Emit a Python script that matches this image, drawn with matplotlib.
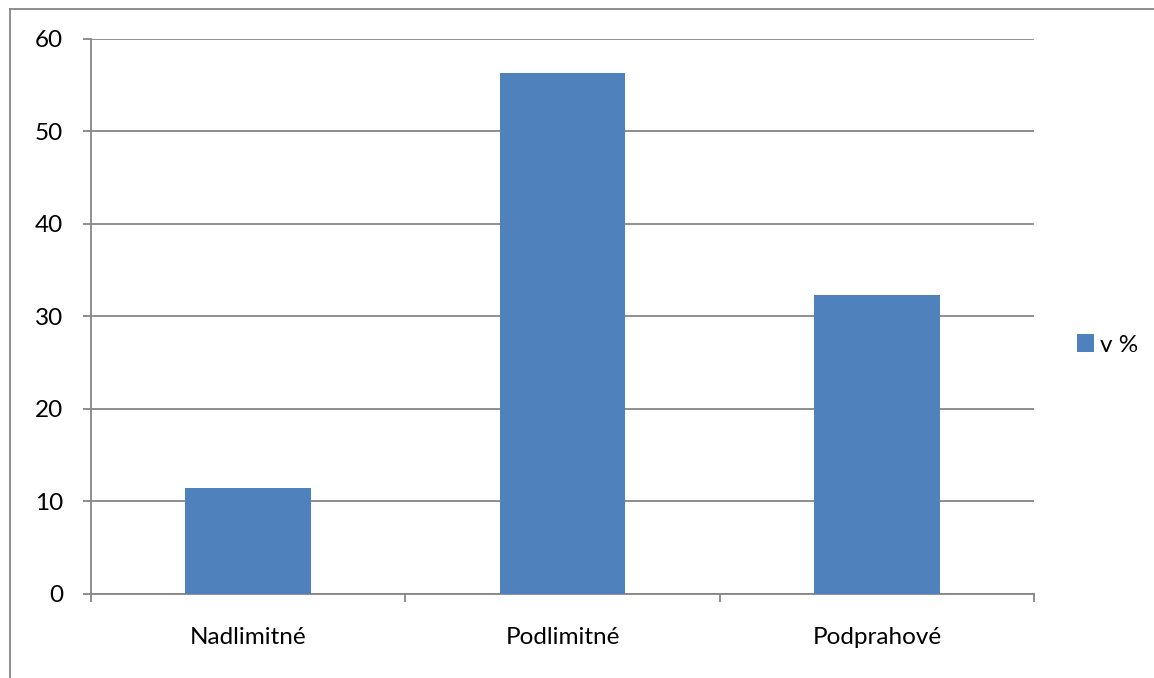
import matplotlib
matplotlib.use("Agg")
import matplotlib.pyplot as plt
from matplotlib.lines import Line2D
from matplotlib.patches import Patch

categories = ["Nadlimitné", "Podlimitné", "Podprahové"]
values = [11.4, 56.3, 32.3]
series_name = "v %"
yticks = [0, 10, 20, 30, 40, 50, 60]

W, H = 1154, 678
plt.rcParams['font.family'] = ['Lato', 'DejaVu Sans']
fig = plt.figure(figsize=(W / 100, H / 100), dpi=100)

gray = "#868686"
bar_color = "#4F81BD"
fs = 17.5

ax = fig.add_axes([91 / W, (H - 594) / H, (1034 - 91) / W, (594 - 38.5) / H])
x = list(range(len(categories)))
ax.bar(x, values, width=0.4, color=bar_color, zorder=3)
ax.set_xlim(-0.5, len(categories) - 0.5)
ax.set_ylim(0, 60)
ax.set_yticks(yticks)
ax.set_yticklabels([str(t) for t in yticks])
ax.set_xticks(x)
ax.set_xticklabels(categories)
ax.set_xticks([i - 0.5 for i in range(len(categories) + 1)], minor=True)
ax.tick_params(axis='x', which='major', length=0, pad=24, labelsize=fs, colors='black')
ax.tick_params(axis='x', which='minor', length=6, width=1.3, color=gray, direction='out')
ax.tick_params(axis='y', length=6, width=1.3, color=gray, pad=14, labelsize=fs)
ax.grid(axis='y', color=gray, linewidth=1.3, zorder=0)
for side in ['top', 'right']:
    ax.spines[side].set_visible(False)
for side in ['left', 'bottom']:
    ax.spines[side].set_color(gray)
    ax.spines[side].set_linewidth(1.3)

handle = Patch(facecolor=bar_color, edgecolor='none')
fig.legend([handle], [series_name], loc='center left',
           bbox_to_anchor=(1055 / W, 1 - 345 / H), frameon=False,
           fontsize=fs, handlelength=0.7, handleheight=0.7, handletextpad=0.25)

# outer chart frame (partially visible)
fig.add_artist(Line2D([10 / W, 10 / W], [0, 1 - 9 / H], color=gray, lw=1.3, transform=fig.transFigure))
fig.add_artist(Line2D([10 / W, 1], [1 - 9 / H, 1 - 9 / H], color=gray, lw=1.3, transform=fig.transFigure))

fig.savefig("out.png", dpi=100)
